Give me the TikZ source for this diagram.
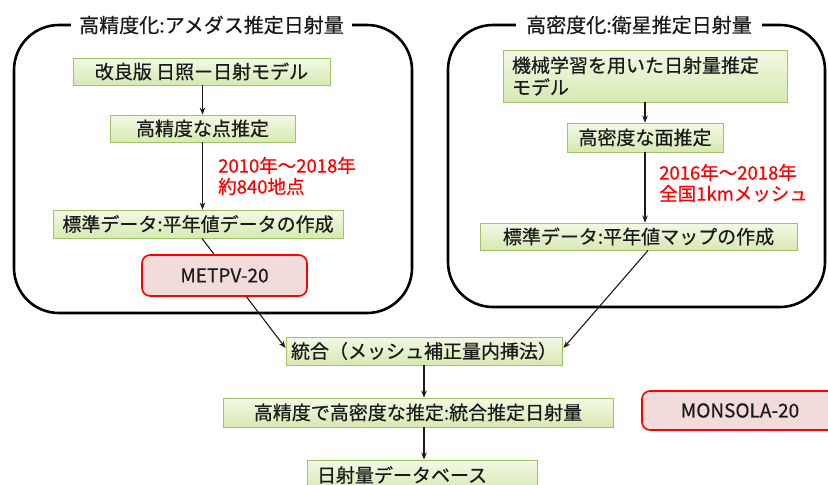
\documentclass[tikz,border=0pt]{standalone}
\usepackage{fontspec}
\setmainfont{Noto Sans CJK JP}[FakeBold=0.5]
\usetikzlibrary{arrows.meta,calc}
\definecolor{gborder}{HTML}{A3C266}
\definecolor{gtop}{HTML}{F3F9E6}
\definecolor{gbot}{HTML}{D6E9B2}
\definecolor{pinkf}{HTML}{F2DCDB}
\definecolor{txt}{HTML}{1A1A1A}
\tikzset{
  gbox/.style={draw=gborder, line width=0.9pt, top color=gtop, bottom color=gbot,
    minimum height=27pt, inner sep=0pt, text=txt, font=\fontsize{19}{22}\selectfont},
  rbox/.style={draw=red, line width=1.6pt, fill=pinkf, rounded corners=8pt,
    inner sep=0pt, text=txt, font=\fontsize{19}{22}\selectfont},
  frame/.style={draw=black, line width=2.6pt, rounded corners=45pt, inner sep=0pt},
  ttl/.style={fill=white, inner xsep=8pt, inner ysep=2pt, text=txt, font=\fontsize{20}{24}\selectfont},
  arr/.style={-{Stealth[length=7pt,width=5.5pt]}, line width=1.1pt, draw=txt},
  redtxt/.style={text=red, align=left, anchor=west, inner sep=0pt, font=\fontsize{18.5}{21}\selectfont}
}
\begin{document}
\begin{tikzpicture}[x=1pt,y=-1pt]
\useasboundingbox (0,0) rectangle (828,485);
\clip (0,0) rectangle (828,485);
% frames
\node[frame, minimum width=398pt, minimum height=288pt] (lframe) at (213,169) {};
\node[frame, minimum width=377pt, minimum height=282pt] (rframe) at (636.5,166) {};
\node[ttl] (ltitle) at (211.5,25) {高精度化:アメダス推定日射量};
\node[ttl, inner xsep=10pt] (rtitle) at (639,25) {高密度化:衛星推定日射量};
% left column
\node[gbox, minimum width=257pt] (L1) at (201.5,71.5) {改良版 日照ー日射モデル};
\node[gbox, minimum width=185pt] (L2) at (202.5,128.5) {高精度な点推定};
\node[gbox, minimum width=290pt, minimum height=28pt] (L3) at (198,224) {標準データ:平年値データの作成};
\node[redtxt] (Lred) at (218,176) {2010年～2018年\\約840地点};
% right column
\node[gbox, minimum width=284pt, minimum height=52pt, text width=266pt, align=left, inner xsep=9pt] (R1) at (645,76) {機械学習を用いた日射量推定\\モデル};
\node[gbox, minimum width=156pt, minimum height=29pt] (R2) at (645,137.5) {高密度な面推定};
\node[gbox, minimum width=317pt] (R3) at (638.5,236.5) {標準データ:平年値マップの作成};
\node[redtxt] (Rred) at (659,183) {2016年～2018年\\全国1kmメッシュ};
% bottom
\node[gbox, minimum width=276pt, minimum height=28pt] (togo) at (424,351) {統合（メッシュ補正量内挿法）};
\node[gbox, minimum width=390pt, minimum height=29pt] (est) at (418,412.5) {高精度で高密度な推定:統合推定日射量};
\node[gbox, minimum width=230pt, minimum height=30pt, text width=210pt, align=left, inner xsep=10pt] (db) at (422,475) {日射量データベース};
\node[rbox, minimum width=196pt, minimum height=39pt] (monsola) at (740,410.5) {MONSOLA-20};
% arrows
\draw[arr] (L1.south -| L2.north) -- (L2.north);
\draw[arr] (L2.south) -- (L2.south |- L3.north);
\draw[arr] (R1.south -| R2.north) -- (R2.north);
\draw[arr] (R2.south) -- (R2.south |- R3.north);
\draw[arr] ($(L3.south)+(4,0)$) -- ($(togo.west)+(0,-3)$);
\draw[arr] ($(R3.south)+(9.5,0)$) -- ($(togo.east)+(1,-3)$);
\draw[arr] (togo.south) -- (togo.south |- est.north);
\draw[arr] (togo.south |- est.south) -- (togo.south |- db.north);
% METPV box drawn over the connector
\node[rbox, minimum width=165pt, minimum height=41pt] (metpv) at (224.5,275.5) {METPV-20};
\end{tikzpicture}
\end{document}
